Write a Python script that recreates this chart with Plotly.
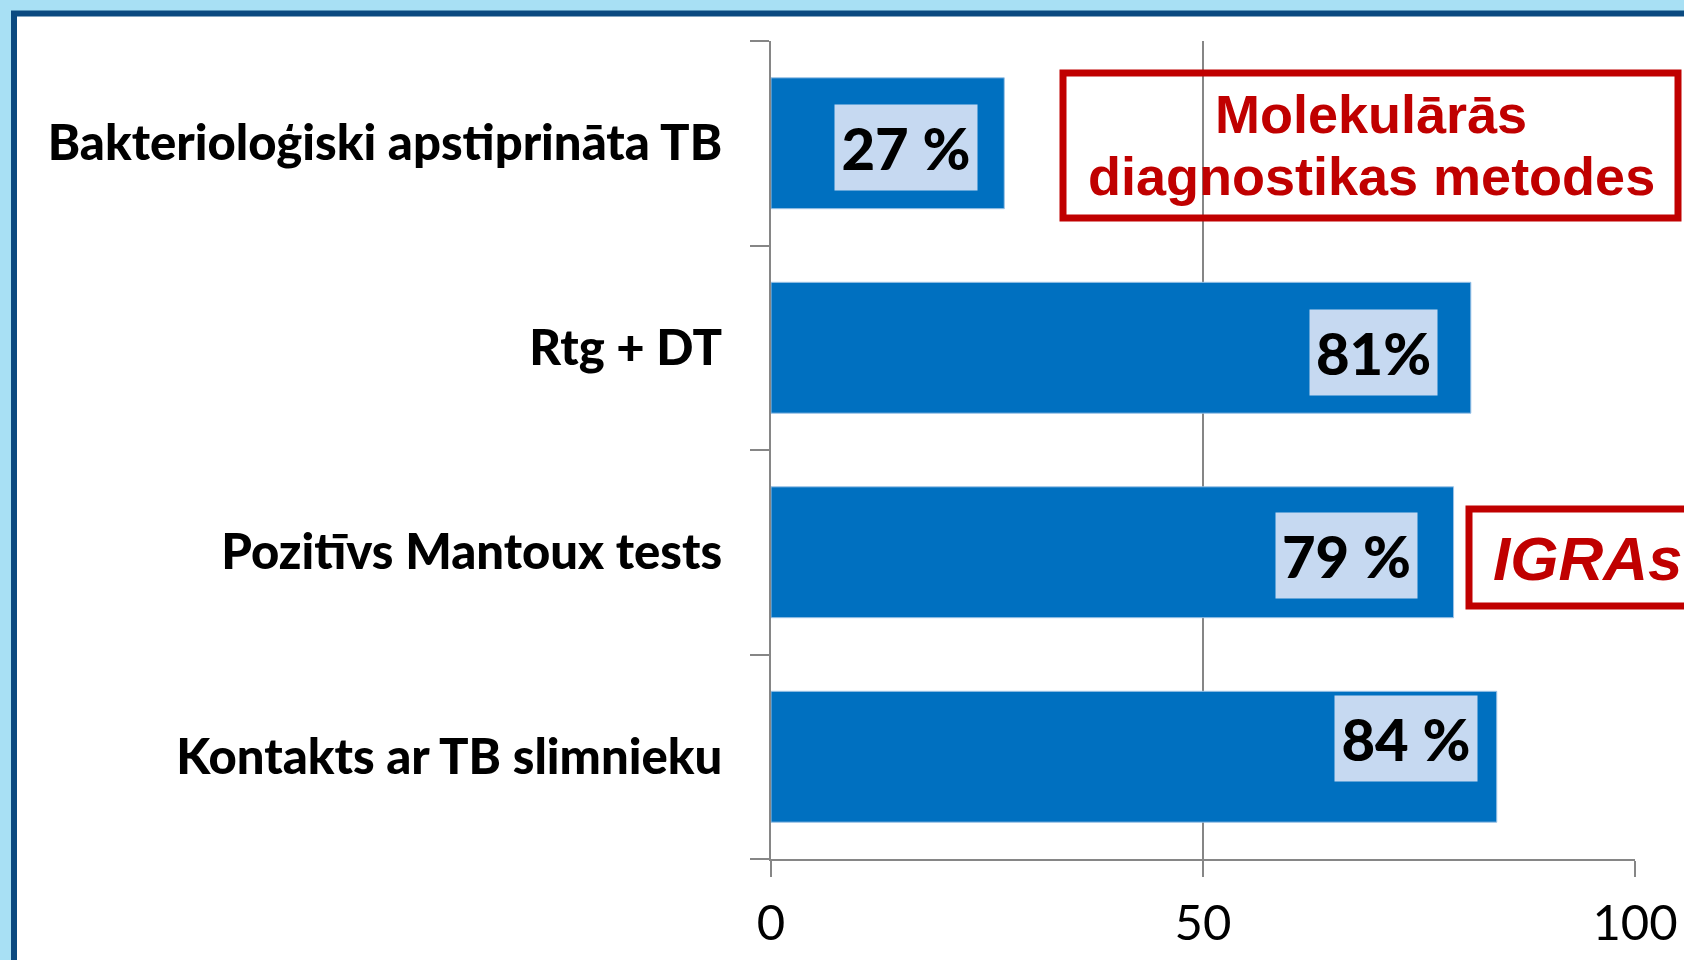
# TB diagnosis breakdown: horizontal bars with boxed value labels
import plotly.graph_objects as go

categories = ['Bakterioloģiski apstiprināta TB', 'Rtg + DT',
              'Pozitīvs Mantoux tests', 'Kontakts ar TB slimnieku']
values = [27, 81, 79, 84]
value_labels = ['27 %', '81%', '79 %', '84 %']
x_ticks = [0, 50, 100]

# per-label nudges / box widths (px) for the light boxes inside the bars
label_xshift = [-26, -33, -36, -19]
label_yshift = [-4, -5, -3, 18]
label_width = [142, 127, 141, 142]

GREY = '#868686'
RED = '#C00000'
BAR = '#0070C0'
L, T, W, H = 771, 41, 864, 818


def px(x):
    return (x - L) / W


def py(y):
    return (T + H - y) / H


fig = go.Figure(
    data=[go.Bar(y=categories, x=values, orientation='h', width=0.64,
                 marker=dict(color=BAR, line=dict(color='#9DC3E6', width=1)),
                 hoverinfo='skip')]
)

annotations = []
for c, v, t, dx, dy, w in zip(categories, values, value_labels,
                              label_xshift, label_yshift, label_width):
    annotations.append(dict(
        x=v, y=c, xref='x', yref='y', text=t, showarrow=False,
        xanchor='right', xshift=dx, yshift=dy, width=w, height=85,
        bgcolor='#C6D9F1', borderpad=0,
        font=dict(family='Lato', size=58, color='black', weight=900)))

red_bold = dict(family='Liberation Sans', size=54, color=RED, weight='bold')
annotations.append(dict(
    x=px(1371), y=py(114), xref='paper', yref='paper', showarrow=False,
    text='Molekulārās', xanchor='center', yanchor='middle', font=red_bold))
annotations.append(dict(
    x=px(1371), y=py(176), xref='paper', yref='paper', showarrow=False,
    text='diagnostikas metodes', xanchor='center', yanchor='middle',
    font=red_bold))
annotations.append(dict(
    x=px(1491), y=py(558), xref='paper', yref='paper', showarrow=False,
    text='IGRAs', xanchor='left', yanchor='middle',
    font=dict(family='Liberation Sans', size=62, color=RED, weight='bold',
              style='italic')))

shapes = [
    # white slide panel with dark border
    dict(type='rect', xref='paper', yref='paper', layer='below',
         x0=px(14), y0=py(1100), x1=px(1800), y1=py(13.5),
         fillcolor='white', line=dict(color='#0B4A80', width=6)),
    dict(type='rect', xref='paper', yref='paper',
         x0=px(1063), y0=py(218), x1=px(1678), y1=py(73),
         line=dict(color=RED, width=7)),
    dict(type='rect', xref='paper', yref='paper',
         x0=px(1469), y0=py(606), x1=px(1750), y1=py(509),
         line=dict(color=RED, width=7)),
]

fig.update_layout(
    width=1684, height=960,
    margin=dict(l=L, r=1684 - L - W, t=T, b=960 - T - H),
    paper_bgcolor='#A8E0F4', plot_bgcolor='rgba(0,0,0,0)',
    showlegend=False, bargap=0.36,
    annotations=annotations, shapes=shapes,
    xaxis=dict(range=[0, 100], tickvals=x_ticks, showgrid=True,
               gridcolor=GREY, gridwidth=2, showline=True, linecolor=GREY,
               linewidth=2, ticks='outside', ticklen=16, tickcolor=GREY,
               tickwidth=2, zeroline=False, ticklabelstandoff=4,
               automargin=False,
               tickfont=dict(family='Lato', size=49, color='black')),
    yaxis=dict(categoryorder='array', categoryarray=categories[::-1],
               tickson='boundaries', showgrid=False, showline=True,
               linecolor=GREY, linewidth=2, ticks='outside', ticklen=19,
               tickcolor=GREY, tickwidth=2, ticklabelstandoff=37,
               automargin=False,
               tickfont=dict(family='Lato', size=49, color='black',
                             weight=900)),
)

fig.write_html("out.html", config=dict(displayModeBar=False),
               post_script="document.body.style.margin='0';"
                           "document.body.style.overflow='hidden';")
